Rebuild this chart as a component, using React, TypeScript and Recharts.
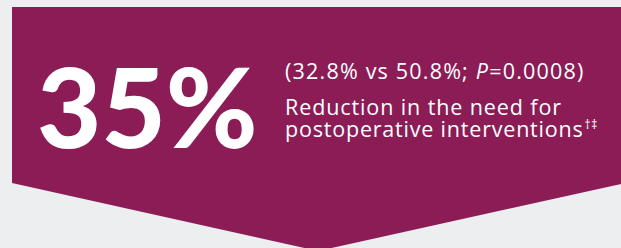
import React from "react";
import { ComposedChart, Area, XAxis, YAxis } from "recharts";

// Headline statistic
const headlineValue = [35];
const headlineUnit = ["%"];
// Comparison rates (treatment vs control) and p-value
const comparisonRates = [32.8, 50.8];
const pValue = ["0.0008"];
const descriptionLines = ["Reduction in the need for", "postoperative interventions"];
const footnoteMarks = ["†‡"];

// Banner outline (x position across the band, top and bottom edges)
const bannerX = [12, 318, 621];
const bannerTop = [7, 7, 7];
const bannerBottom = [183, 251, 184];

const bannerData = bannerX.map((x, i) => ({ x, band: [bannerBottom[i], bannerTop[i]] }));

const W = 621;
const H = 248;
const MAROON = "#8b1c56";
const BG = "#eceef0";
const BODY_FONT = "'Open Sans', sans-serif";

const Texts = () => (
  <svg
    width={W}
    height={H}
    style={{ position: "absolute", left: 0, top: 0, pointerEvents: "none" }}
  >
    <text
      x={37}
      y={148}
      fill="#fff"
      fontFamily="Lato, sans-serif"
      fontWeight={900}
      fontSize={111}
    >
      {headlineValue[0]}
      {headlineUnit[0]}
    </text>
    <text
      x={285}
      y={79}
      fill="#fff"
      fontFamily={BODY_FONT}
      fontSize={21.5}
      style={{ letterSpacing: 1.2 }}
    >
      ({comparisonRates[0].toFixed(1)}% vs {comparisonRates[1].toFixed(1)}%;{" "}
      <tspan fontStyle="italic">P</tspan>={pValue[0]})
    </text>
  </svg>
);

const Description = () => (
  <div
    style={{
      position: "absolute",
      left: 285,
      top: 95.7,
      fontFamily: BODY_FONT,
      fontSize: 21.5,
      lineHeight: "22px",
      color: "#fff",
      whiteSpace: "nowrap",
      pointerEvents: "none",
    }}
  >
    <span style={{ letterSpacing: 0.9 }}>{descriptionLines[0]}</span>
    <br />
    <span style={{ letterSpacing: 0.8 }}>{descriptionLines[1]}</span>
    <span
      style={{
        fontSize: 12,
        lineHeight: 0,
        position: "relative",
        top: -8,
        marginLeft: 1,
        letterSpacing: 0.5,
      }}
    >
      {footnoteMarks[0]}
    </span>
  </div>
);

export default function App() {
  return (
    <div style={{ position: "absolute", left: 0, top: 0, width: W, height: H, background: BG }}>
      <ComposedChart
        width={W}
        height={H}
        data={bannerData}
        margin={{ top: 0, right: 0, bottom: 0, left: 0 }}
      >
        <XAxis dataKey="x" type="number" domain={[0, W]} hide allowDataOverflow />
        <YAxis type="number" domain={[0, H]} reversed hide allowDataOverflow />
        <Area
          type="linear"
          dataKey="band"
          fill={MAROON}
          fillOpacity={1}
          stroke="none"
          isAnimationActive={false}
          dot={false}
          activeDot={false}
        />
      </ComposedChart>
      <Texts />
      <Description />
    </div>
  );
}
